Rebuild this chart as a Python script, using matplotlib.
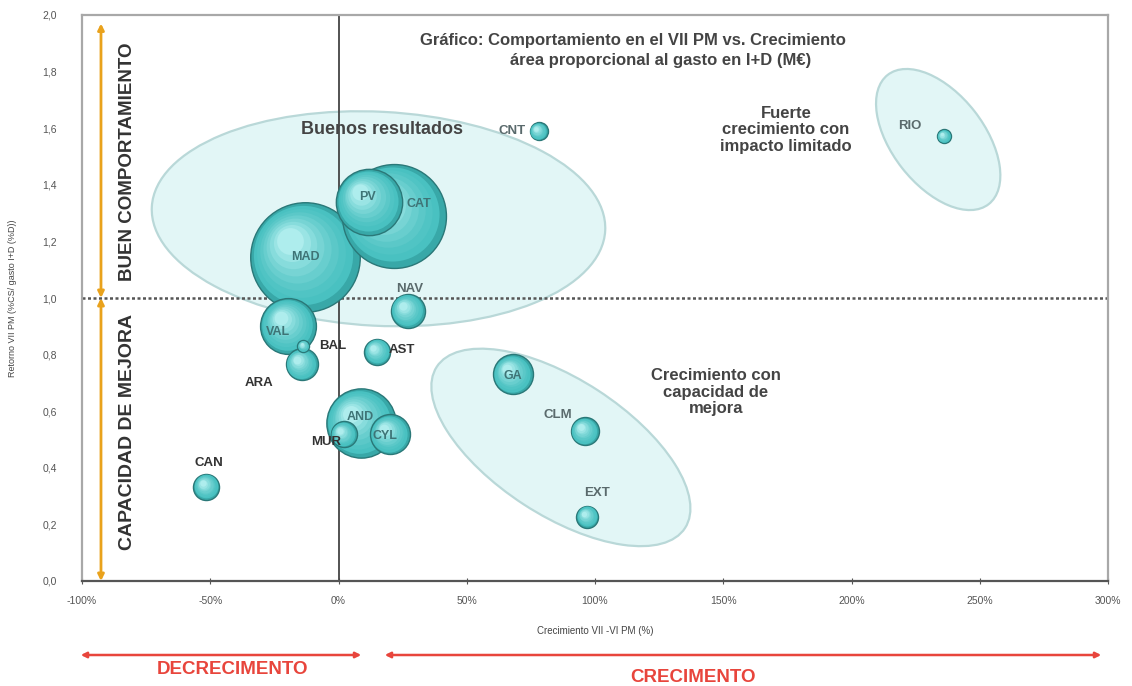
import numpy as np
import matplotlib
matplotlib.use("Agg")
import matplotlib.pyplot as plt
from matplotlib.patches import Ellipse, FancyArrowPatch
from matplotlib.transforms import ScaledTranslation
from matplotlib.ticker import FuncFormatter

plt.rcParams['font.family'] = ['Liberation Sans', 'DejaVu Sans']

# regions: growth VII-VI PM (%), return VII PM, R&D spending (area)
regiones = ['MAD', 'CAT', 'AND', 'PV', 'VAL', 'CYL', 'GA', 'NAV', 'ARA',
            'CLM', 'MUR', 'CAN', 'AST', 'EXT', 'CNT', 'RIO', 'BAL']
crecimiento = [-13, 21.5, 8.6, 12, -19.5, 20, 68, 27, -14.4,
               96, 2, -51.5, 15, 97, 78, 236, -13.7]
retorno = [1.145, 1.29, 0.557, 1.34, 0.90, 0.518, 0.73, 0.954, 0.766,
           0.53, 0.518, 0.333, 0.81, 0.227, 1.589, 1.571, 0.83]
gasto = [3000, 2700, 1200, 1100, 780, 400, 400, 290, 256,
         196, 170, 170, 170, 121, 81, 49, 36]

x_ticks = [-100, -50, 0, 50, 100, 150, 200, 250, 300]
y_ticks = [0.0, 0.2, 0.4, 0.6, 0.8, 1.0, 1.2, 1.4, 1.6, 1.8, 2.0]

# label placement (offset in px, ha, inside bubble?)
lab_pos = {
    'MAD': (0, 0, 'center', True), 'CAT': (25, 12, 'center', True),
    'AND': (0, 6, 'center', True), 'PV': (-2, 5, 'center', True),
    'VAL': (-11, -6, 'center', True), 'CYL': (-5, -2, 'center', True),
    'GA': (0, -2, 'center', True), 'NAV': (2, 22, 'center', False),
    'ARA': (-43, -19, 'center', False), 'CLM': (-13, 16, 'right', False),
    'MUR': (-3, -8, 'right', False), 'CAN': (2, 24, 'center', False),
    'AST': (12, 2, 'left', False), 'EXT': (10, 24, 'center', False),
    'CNT': (-13, 0, 'right', False), 'RIO': (-22, 10, 'right', False),
    'BAL': (16, 0, 'left', False),
}

fig = plt.figure(figsize=(11.32, 6.86), dpi=100)
ax = fig.add_axes([82/1132, 1-581/686, (1108-82)/1132, (581-15)/686])
ax.set_xlim(-100, 300)
ax.set_ylim(0, 2.0)

def px_ellipse(cx, cy, a, b, ang):
    # ellipse sized in pixels (dpi 100), centred on data point
    tr = fig.dpi_scale_trans + ScaledTranslation(cx, cy, ax.transData)
    e = Ellipse((0, 0), 2*a/100, 2*b/100, angle=ang, transform=tr,
                facecolor='#e2f6f6', edgecolor='#b9d8d8', lw=1.6, zorder=1)
    ax.add_patch(e)

px_ellipse(15.6, 1.28, 227, 107, -3)
px_ellipse(86.7, 0.472, 148, 68, -33)
px_ellipse(233.8, 1.56, 82, 46, -52)

ax.axhline(1.0, color='#555555', lw=1.8, ls=(0, (1.2, 1.0)), zorder=2)
ax.axvline(0, color='#444444', lw=1.3, zorder=2)

# orange quadrant arrows
for y0, y1 in [(1.0, 1.97), (1.0, 0.0)]:
    ax.annotate('', xy=(-92.6, y1), xytext=(-92.6, y0),
                arrowprops=dict(arrowstyle='<|-|>', color='#e9a21c', lw=2,
                                mutation_scale=9, shrinkA=0, shrinkB=0),
                zorder=3)

# bubbles with simple 3D shading
order = np.argsort(gasto)[::-1]
c0 = np.array([0x45, 0xbf, 0xbf]) / 255
c1 = np.array([0xc4, 0xf6, 0xf6]) / 255
for i in order:
    x, y, g = crecimiento[i], retorno[i], gasto[i]
    r = np.sqrt(g)  # radius in px
    ax.scatter(x, y, s=(2 * r * 0.72) ** 2, color='#38a8a8',
               edgecolor='#2a7878', lw=1.0, zorder=4)
    n = 9
    for k in range(1, n):
        f = k / n
        rk = r * (1 - 0.85 * f)
        d = 0.32 * r * f / 100
        tr = ax.transData + ScaledTranslation(-d, d, fig.dpi_scale_trans)
        ax.scatter(x, y, s=(2 * rk * 0.72) ** 2, color=c0 + (c1 - c0) * f ** 1.6,
                   lw=0, transform=tr, zorder=4)
    dx, dy, ha, inside = lab_pos[regiones[i]]
    col, fs = ('#3e7476', 9) if inside else ('#333333', 9.5)
    if regiones[i] in ('CNT', 'RIO', 'CLM', 'EXT', 'NAV'):
        col = '#5a6a6c'
    ax.annotate(regiones[i], (x, y), xytext=(dx * 0.72, dy * 0.72),
                textcoords='offset points', ha=ha, va='center',
                fontsize=fs, fontweight='bold', color=col, zorder=5)

# axis styling
for side in ['top', 'right', 'left']:
    ax.spines[side].set_color('#a8a8a8')
    ax.spines[side].set_linewidth(1.6)
ax.spines['bottom'].set_color('#555555')
ax.spines['bottom'].set_linewidth(1.6)
ax.set_xticks(x_ticks)
ax.set_yticks(y_ticks)
ax.xaxis.set_major_formatter(FuncFormatter(lambda v, p: f'{v:.0f}%'))
ax.yaxis.set_major_formatter(FuncFormatter(lambda v, p: f'{v:.1f}'.replace('.', ',')))
ax.tick_params(axis='x', colors='#555555', labelsize=7.5, length=4,
               direction='inout', pad=9)
ax.tick_params(axis='y', colors='#555555', labelsize=7.5, length=0, pad=18)
ax.set_xlabel('Crecimiento VII -VI PM (%)', fontsize=7, color='#444444', labelpad=14)
ax.set_ylabel('Retorno VII PM (%CS/ gasto I+D (%D))', fontsize=6.5, color='#444444',
              labelpad=18)

# annotations inside the plot
ax.text(-82.3, 1.48, 'BUEN COMPORTAMIENTO', rotation=90, ha='center', va='center',
        fontsize=13.5, fontweight='bold', color='#333333')
ax.text(-82.3, 0.525, 'CAPACIDAD DE MEJORA', rotation=90, ha='center', va='center',
        fontsize=14, fontweight='bold', color='#333333')
fig.text(633/1132, 1-40/686, 'Gráfico: Comportamiento en el VII PM vs. Crecimiento',
         ha='center', va='center', fontsize=12, fontweight='bold', color='#444444')
fig.text(661/1132, 1-61/686, 'área proporcional al gasto en I+D (M€)',
         ha='center', va='center', fontsize=12, fontweight='bold', color='#444444')
fig.text(382/1132, 1-130/686, 'Buenos resultados', ha='center', va='center',
         fontsize=13, fontweight='bold', color='#444444')
fig.text(786/1132, 1-130/686, 'Fuerte\ncrecimiento con\nimpacto limitado',
         ha='center', va='center', fontsize=12, fontweight='bold', color='#444444',
         linespacing=1.15)
fig.text(716/1132, 1-392/686, 'Crecimiento con\ncapacidad de\nmejora',
         ha='center', va='center', fontsize=12, fontweight='bold', color='#444444',
         linespacing=1.15)

# red arrows below the chart
red = '#e8453c'
for x0, x1 in [(78, 364), (382, 1104)]:
    fig.add_artist(FancyArrowPatch(
        (x0/1132, 1-655/686), (x1/1132, 1-655/686), transform=fig.transFigure,
        arrowstyle='<|-|>', mutation_scale=8, color=red, lw=1.8))
fig.text(232/1132, 1-670/686, 'DECRECIMENTO', ha='center', va='center',
         fontsize=13.5, fontweight='bold', color=red)
fig.text(693/1132, 1-677/686, 'CRECIMENTO', ha='center', va='center',
         fontsize=13.5, fontweight='bold', color=red)

fig.savefig('out.png', dpi=100)
